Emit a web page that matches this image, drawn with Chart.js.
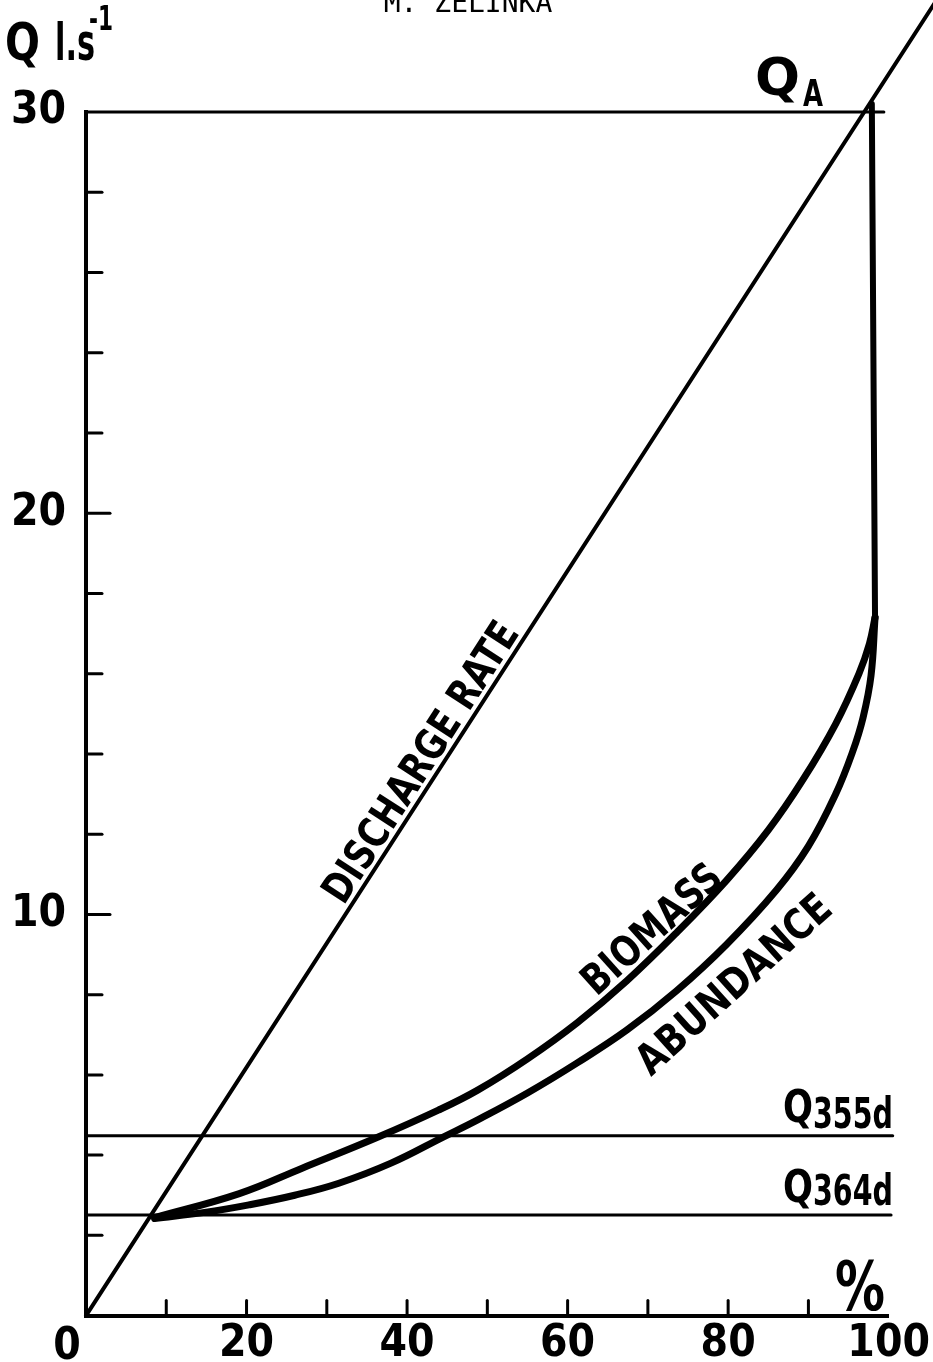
<!DOCTYPE html>
<html>
<head>
<meta charset="utf-8">
<script src="https://cdn.jsdelivr.net/npm/chart.js@4"></script>
<style>
  html, body { margin: 0; padding: 0; background: #fff; }
  canvas { display: block; }
</style>
</head>
<body>
<canvas id="chart" width="933" height="1362"></canvas>
<script>
// percent of time (x) vs discharge Q l.s-1 (y)
const percentTicks = [10, 20, 30, 40, 50, 60, 70, 80, 90];
const dischargeTicks = [2, 4, 6, 8, 10, 12, 14, 16, 18, 20, 22, 24, 26, 28];

const dischargeX = [0, 106];
const dischargeQ = [0, 32.8];

const biomassX = [8.55, 19.1, 27.0, 36.4, 43.9, 48.8, 55.0, 61.2, 67.4, 73.6, 79.8, 85.0, 89.3, 93.4, 96.3, 97.6, 98.3];
const biomassQ = [2.44, 3.04, 3.68, 4.45, 5.12, 5.62, 6.40, 7.30, 8.35, 9.55, 10.85, 12.10, 13.35, 14.75, 16.00, 16.75, 17.4];

const abundanceX = [8.55, 15.0, 20.3, 26.0, 31.5, 38.0, 44.5, 48.8, 55.0, 61.2, 67.4, 73.6, 79.8, 86.0, 90.0, 93.4, 95.5, 96.8, 97.8, 98.3];
const abundanceQ = [2.42, 2.58, 2.76, 3.00, 3.30, 3.80, 4.45, 4.88, 5.55, 6.30, 7.12, 8.10, 9.25, 10.60, 11.70, 13.00, 14.05, 14.90, 15.95, 17.4];

const qaX = [0, 99.4];
const qaQ = [30, 30];
const qaDropX = [98.3, 97.9];
const qaDropQ = [17.4, 30.2];

const q355X = [0, 100.5];
const q355Q = [4.48, 4.48];
const q364X = [0, 100.3];
const q364Q = [2.51, 2.51];

const bold = "'Liberation Sans Narrow', 'DejaVu Sans Condensed', sans-serif";

function toPoints(xs, ys) {
  return xs.map((v, i) => ({ x: v, y: ys[i] }));
}

function line(xs, ys, width, extra) {
  return Object.assign({
    data: toPoints(xs, ys),
    showLine: true,
    borderColor: '#000',
    backgroundColor: '#000',
    borderWidth: width,
    pointRadius: 0,
    borderCapStyle: 'round',
    borderJoinStyle: 'round',
    clip: false
  }, extra || {});
}

// text squeezed/stretched to a given width, baseline-left at (px, py)
function fitText(ctx, text, px, py, size, width, angle) {
  ctx.save();
  ctx.translate(px, py);
  if (angle) ctx.rotate(-angle * Math.PI / 180);
  ctx.font = 'bold ' + size + 'px ' + bold;
  const w = ctx.measureText(text).width;
  ctx.scale(width / w, 1);
  ctx.textAlign = 'left';
  ctx.textBaseline = 'alphabetic';
  ctx.fillText(text, 0, 0);
  ctx.restore();
}

const overlay = {
  id: 'overlay',
  afterDraw(chart) {
    const { ctx, scales: { x, y } } = chart;
    ctx.save();
    ctx.strokeStyle = '#000';
    ctx.fillStyle = '#000';
    ctx.lineWidth = 3;
    ctx.lineCap = 'round';

    // inward tick marks
    percentTicks.forEach(v => {
      const px = x.getPixelForValue(v);
      ctx.beginPath();
      ctx.moveTo(px, y.bottom);
      ctx.lineTo(px, y.bottom - 15);
      ctx.stroke();
    });
    dischargeTicks.forEach(v => {
      const py = y.getPixelForValue(v);
      const len = v % 10 === 0 ? 24 : 16;
      ctx.beginPath();
      ctx.moveTo(x.left, py);
      ctx.lineTo(x.left + len, py);
      ctx.stroke();
    });

    // zero label under the origin
    ctx.font = 'bold 44px ' + bold;
    ctx.textAlign = 'center';
    ctx.textBaseline = 'alphabetic';
    ctx.fillText('0', x.left - 19, 1359);

    // header
    ctx.font = '28px "DejaVu Sans Mono"';
    ctx.fillText('M. ZELINKA', 468, 12);

    // axis titles
    fitText(ctx, 'Q', 5, 60, 52, 35);
    fitText(ctx, 'l.s', 55, 60, 52, 40);
    fitText(ctx, '-1', 89, 30, 34, 24);
    fitText(ctx, '%', 835, 1310, 68, 50);

    // reference discharges
    fitText(ctx, 'Q', 755, 95, 52, 45);
    fitText(ctx, 'A', 803, 106, 38, 20);
    fitText(ctx, 'Q', 783, 1122, 44, 30);
    fitText(ctx, '355d', 813, 1128, 42, 80);
    fitText(ctx, 'Q', 783, 1202, 44, 30);
    fitText(ctx, '364d', 813, 1205, 42, 80);

    // curve names
    const ang = Math.atan2(
      y.getPixelForValue(dischargeQ[0]) - y.getPixelForValue(dischargeQ[1]),
      x.getPixelForValue(dischargeX[1]) - x.getPixelForValue(dischargeX[0])
    ) * 180 / Math.PI;
    fitText(ctx, 'DISCHARGE RATE', x.getPixelForValue(32.1), y.getPixelForValue(10.21), 42, 325, ang);
    fitText(ctx, 'BIOMASS', x.getPixelForValue(63.6), y.getPixelForValue(7.94), 42, 173, 42);
    fitText(ctx, 'ABUNDANCE', x.getPixelForValue(70.4), y.getPixelForValue(5.95), 42, 247, 42);

    ctx.restore();
  }
};

const ctx = document.getElementById('chart').getContext('2d');
new Chart(ctx, {
  type: 'scatter',
  data: {
    datasets: [
      line(biomassX, biomassQ, 7, { tension: 0.4 }),
      line(abundanceX, abundanceQ, 7, { tension: 0.4 }),
      line(dischargeX, dischargeQ, 4),
      line(qaX, qaQ, 3),
      line(qaDropX, qaDropQ, 6),
      line(q355X, q355Q, 3),
      line(q364X, q364Q, 3)
    ]
  },
  options: {
    responsive: false,
    animation: false,
    layout: { padding: { top: 112, right: 40, left: 0, bottom: 0 } },
    plugins: {
      legend: { display: false },
      tooltip: { enabled: false }
    },
    scales: {
      x: {
        type: 'linear',
        min: 0,
        max: 100,
        border: { display: true, color: '#000', width: 4 },
        grid: { display: false, drawTicks: false },
        ticks: {
          stepSize: 10,
          autoSkip: false,
          maxRotation: 0,
          padding: 3,
          color: '#000',
          font: { family: bold, size: 44, weight: 'bold' },
          callback: v => (v > 0 && v % 20 === 0) ? String(v) : ''
        },
        afterFit: s => { s.height = 45; }
      },
      y: {
        type: 'linear',
        min: 0,
        max: 30,
        border: { display: true, color: '#000', width: 4 },
        grid: { display: false, drawTicks: false },
        ticks: {
          stepSize: 2,
          autoSkip: false,
          padding: 20,
          color: '#000',
          font: { family: bold, size: 44, weight: 'bold' },
          callback: v => (v > 0 && v % 10 === 0) ? String(v) : ''
        },
        afterFit: s => { s.width = 86; }
      }
    }
  },
  plugins: [overlay]
});
</script>
</body>
</html>
